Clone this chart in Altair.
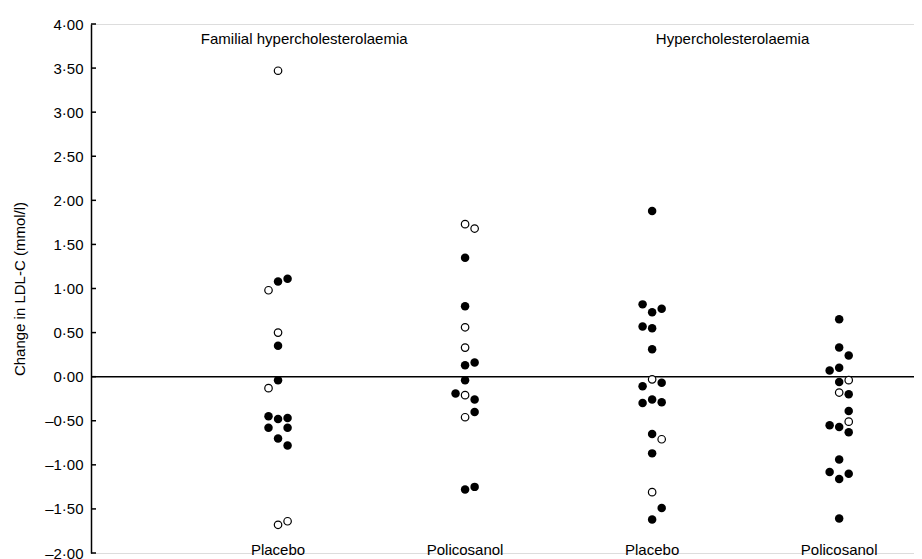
import altair as alt
import pandas as pd

# ---- data ----
group_names = ["Placebo", "Policosanol", "Placebo", "Policosanol"]
group_pos = [1, 2, 3, 4]
panel_titles = ["Familial hypercholesterolaemia", "Hypercholesterolaemia"]
panel_title_x = [1.14, 3.43]
panel_title_y = [3.83, 3.83]
tick_values = [-2.0, -1.5, -1.0, -0.5, 0.0, 0.5, 1.0, 1.5, 2.0, 2.5, 3.0, 3.5, 4.0]

# Familial hypercholesterolaemia - Placebo
fh_pla_val = [3.47, 1.08, 1.11, 0.98, 0.50, 0.35, -0.04, -0.13, -0.45, -0.48, -0.47,
              -0.58, -0.58, -0.70, -0.78, -1.68, -1.64]
fh_pla_open = [1, 0, 0, 1, 1, 0, 0, 1, 0, 0, 0, 0, 0, 0, 0, 1, 1]
fh_pla_slot = [0, 0, 1, -1, 0, 0, 0, -1, -1, 0, 1, -1, 1, 0, 1, 0, 1]

# Familial hypercholesterolaemia - Policosanol
fh_pol_val = [1.73, 1.68, 1.35, 0.80, 0.56, 0.33, 0.13, 0.16, -0.04, -0.19, -0.21,
              -0.26, -0.40, -0.46, -1.28, -1.25]
fh_pol_open = [1, 1, 0, 0, 1, 1, 0, 0, 0, 0, 1, 0, 0, 1, 0, 0]
fh_pol_slot = [0, 1, 0, 0, 0, 0, 0, 1, 0, -1, 0, 1, 1, 0, 0, 1]

# Hypercholesterolaemia - Placebo
h_pla_val = [1.88, 0.82, 0.73, 0.77, 0.57, 0.55, 0.31, -0.03, -0.11, -0.07, -0.30,
             -0.26, -0.29, -0.65, -0.71, -0.87, -1.31, -1.49, -1.62]
h_pla_open = [0, 0, 0, 0, 0, 0, 0, 1, 0, 0, 0, 0, 0, 0, 1, 0, 1, 0, 0]
h_pla_slot = [0, -1, 0, 1, -1, 0, 0, 0, -1, 1, -1, 0, 1, 0, 1, 0, 0, 1, 0]

# Hypercholesterolaemia - Policosanol
h_pol_val = [0.65, 0.33, 0.24, 0.07, 0.10, -0.06, -0.04, -0.18, -0.20, -0.39, -0.51,
             -0.55, -0.57, -0.63, -0.94, -1.08, -1.16, -1.10, -1.61]
h_pol_open = [0, 0, 0, 0, 0, 0, 1, 1, 0, 0, 1, 0, 0, 0, 0, 0, 0, 0, 0]
h_pol_slot = [0, 0, 1, -1, 0, 0, 1, 0, 1, 1, 1, -1, 0, 1, 0, -1, 0, 1, 0]

# ---- build tables ----
rows = []
for g, vals, opens, slots in [
    (1, fh_pla_val, fh_pla_open, fh_pla_slot),
    (2, fh_pol_val, fh_pol_open, fh_pol_slot),
    (3, h_pla_val, h_pla_open, h_pla_slot),
    (4, h_pol_val, h_pol_open, h_pol_slot),
]:
    for v, o, s in zip(vals, opens, slots):
        rows.append({"group": g, "value": v, "open": o, "slot": s})
points = pd.DataFrame(rows)

labels = pd.DataFrame({"x": group_pos, "name": group_names, "y": [-2.0] * 4})
titles = pd.DataFrame({"x": panel_title_x, "y": panel_title_y, "name": panel_titles})
ticks = pd.DataFrame({"t": tick_values})
zero = pd.DataFrame({"z": [0.0]})

FONT = "Liberation Sans"
xscale = alt.Scale(domain=[0, 4.4], nice=False, zero=False)
yscale = alt.Scale(domain=[-2, 4], nice=False, zero=False)

yaxis = alt.Axis(
    values=tick_values,
    ticks=False,
    grid=False,
    domainColor="black",
    domainWidth=1.5,
    labelExpr="replace(replace(format(datum.value, '.2f'), '.', '\u00b7'), '\u2212', '\u2013')",
    labelFont=FONT,
    labelFontSize=15,
    labelColor="black",
    labelPadding=8,
    title="Change in LDL-C (mmol/l)",
    titleFont=FONT,
    titleFontSize=15,
    titleFontWeight="normal",
    titleColor="black",
    titlePadding=17,
)

base_pts = alt.Chart(points).transform_calculate(
    xpos="datum.group + datum.slot * 0.051"
)

filled = base_pts.transform_filter("datum.open == 0").mark_point(
    shape="circle", filled=True, color="black", size=72, opacity=1
).encode(
    x=alt.X("xpos:Q", scale=xscale, axis=None),
    y=alt.Y("value:Q", scale=yscale, axis=yaxis),
)

opened = base_pts.transform_filter("datum.open == 1").mark_point(
    shape="circle", filled=False, color="black", fill="white", size=56,
    strokeWidth=1.2, opacity=1
).encode(
    x=alt.X("xpos:Q", scale=xscale, axis=None),
    y=alt.Y("value:Q", scale=yscale),
)

zero_line = alt.Chart(zero).mark_rule(color="black", strokeWidth=1.5).encode(
    y=alt.Y("z:Q", scale=yscale)
)

tick_marks = alt.Chart(ticks).mark_rule(color="black", strokeWidth=1.5).encode(
    y=alt.Y("t:Q", scale=yscale),
    x=alt.value(0),
    x2=alt.value(5),
)

label_text = alt.Chart(labels).mark_text(
    font=FONT, fontSize=15, color="black", baseline="middle", align="center", dy=-3
).encode(
    x=alt.X("x:Q", scale=xscale),
    y=alt.Y("y:Q", scale=yscale),
    text="name:N",
)

title_text = alt.Chart(titles).mark_text(
    font=FONT, fontSize=15, color="black",
    baseline="middle", align="center"
).encode(
    x=alt.X("x:Q", scale=xscale),
    y=alt.Y("y:Q", scale=yscale),
    text="name:N",
)

chart = alt.layer(
    zero_line, tick_marks, filled, opened, label_text, title_text
).properties(
    width=823,
    height=529,
    autosize=alt.AutoSizeParams(type="none"),
    padding={"left": 83, "top": 16, "right": 0, "bottom": 20},
).configure_view(stroke=None).configure(background="white")

chart.save("out.html", embed_options={"renderer": "svg", "actions": False})
